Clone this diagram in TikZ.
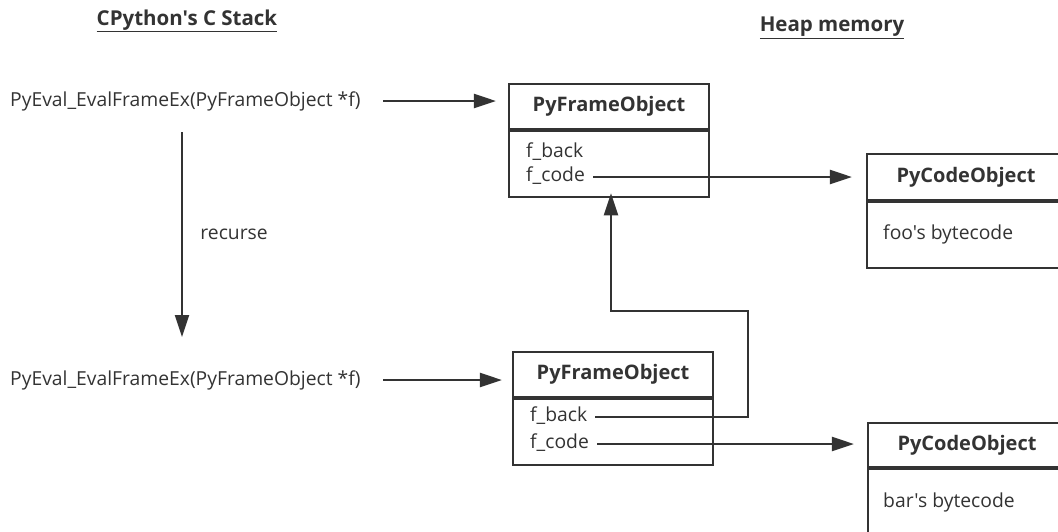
\documentclass[tikz,border=0pt]{standalone}
\usepackage{fontspec}
\setmainfont{Open Sans}[Ligatures=TeXOff]
\usetikzlibrary{arrows.meta}
\definecolor{ink}{HTML}{333333}
\tikzset{
  every node/.style={text=ink, font=\fontsize{19.3}{22}\selectfont},
  link/.style={draw=ink, line width=2.2pt, -{Triangle[length=22pt,width=14pt]}},
  headbox/.style={draw=ink, line width=2.2pt, minimum width=200pt, minimum height=45pt,
    inner sep=0pt, font=\fontsize{20}{24}\selectfont\bfseries},
  bodybox/.style={draw=ink, line width=2.2pt, minimum width=200pt, minimum height=66pt, inner sep=0pt},
  field/.style={anchor=west, inner xsep=0pt, inner ysep=0pt, text height=13pt, text depth=5pt},
  title/.style={font=\fontsize{20.5}{24}\selectfont\bfseries},
}
\begin{document}
\begin{tikzpicture}[x=1pt, y=-1pt]
\useasboundingbox (0,0) rectangle (1058,531);

% column titles
\node[title] (stacktitle) at (187,21) {\underline{CPython's C Stack}};
\node[title] (heaptitle) at (832,28) {\underline{Heap memory}};

% C stack frames
\node[anchor=west, inner sep=0pt] (call1) at (10,101) {PyEval\_EvalFrameEx(PyFrameObject *f)};
\node[anchor=west, inner sep=0pt] (call2) at (10,380) {PyEval\_EvalFrameEx(PyFrameObject *f)};
\coordinate (rtop) at (182,132);
\coordinate (rbot) at (182,337);
\draw[link] (rtop) -- (rbot) node[midway, right=14pt] (rec) {recurse};

% first frame object
\node[headbox] (f1head) at (609,106.5) {PyFrameObject};
\node[bodybox, anchor=north] (f1body) at (f1head.south) {};
\node[field] (f1back) at (526,153) {f\_back};
\node[field] (f1code) at (526,177) {f\_code};

% second frame object
\node[headbox] (f2head) at (613,374.5) {PyFrameObject};
\node[bodybox, anchor=north] (f2body) at (f2head.south) {};
\node[field] (f2back) at (530,417) {f\_back};
\node[field] (f2code) at (530,444) {f\_code};

% code objects
\node[headbox, minimum width=198pt, minimum height=46pt] (c1head) at (966,177) {PyCodeObject};
\node[bodybox, minimum width=198pt, anchor=north] (c1body) at (c1head.south) {};
\node[anchor=west, inner sep=0pt] (c1text) at (883,234) {foo's bytecode};

\node[headbox, minimum width=198pt, minimum height=44pt] (c2head) at (967,445) {PyCodeObject};
\node[bodybox, minimum width=198pt, anchor=north] (c2body) at (c2head.south) {};
\node[anchor=west, inner sep=0pt] (c2text) at (883,502) {bar's bytecode};

% pointers
\coordinate (a1) at (383,101);
\coordinate (a2) at (383,380);
\draw[link] (a1) -- ([xshift=-12pt]f1head.west |- a1);
\draw[link] (a2) -- ([xshift=-10pt]f2head.west |- a2);
\draw[link] ([xshift=8pt]f1code.east) -- ([xshift=-14pt]c1head.west |- f1code.east);
\draw[link] ([xshift=8pt]f2code.east) -- ([xshift=-13pt]c2head.west |- f2code.east);
\draw[link] ([xshift=8pt]f2back.east) -- (748,417) -- (748,311) -- (611,311) -- ([yshift=5pt]f1body.south -| 611,0);
\end{tikzpicture}
\end{document}
